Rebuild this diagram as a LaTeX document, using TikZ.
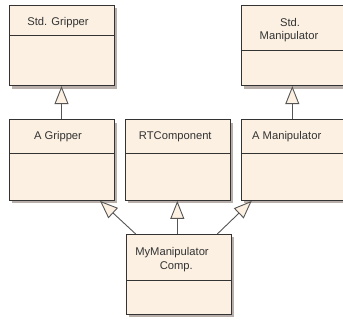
\documentclass[tikz,border=0pt]{standalone}
\usepackage{fontspec}
\setmainfont{Liberation Sans}
\usetikzlibrary{arrows.meta,shadows}
\definecolor{boxfill}{HTML}{FBF0E2}
\definecolor{boxline}{HTML}{333333}
\definecolor{shadowcol}{HTML}{B8AEAA}
\definecolor{textcol}{HTML}{333333}
\definecolor{linkcol}{HTML}{555555}
\tikzset{
  classbox/.style={rectangle, draw=boxline, line width=0.9pt, fill=boxfill,
    minimum width=104.5pt, minimum height=80.5pt, inner sep=0pt, anchor=north west,
    drop shadow={shadow xshift=3pt, shadow yshift=-3pt, fill=shadowcol, opacity=1}},
  divider/.style={draw=boxline, line width=0.9pt},
  lbl/.style={text=textcol, inner sep=0pt, font=\fontsize{11.2}{14}\selectfont},
  inherit/.style={draw=linkcol, line width=0.9pt,
    -{Triangle[length=18pt, width=14pt, fill=boxfill, line width=0.9pt]}},
}
\begin{document}
\begin{tikzpicture}[x=1pt,y=-1pt]
  \clip (0,0) rectangle (343,320);
  \fill[white] (0,0) rectangle (343,320);

  % class boxes
  \node[classbox] (sg) at (9,4.7) {};
  \node[classbox] (sm) at (240.7,4.7) {};
  \node[classbox] (ag) at (9,119.5) {};
  \node[classbox] (rt) at (125,119.5) {};
  \node[classbox] (am) at (240.7,119.5) {};
  \node[classbox, minimum height=80pt] (mc) at (126,234) {};

  % compartment dividers
  \draw[divider] ([yshift=-30.3pt]sg.north west) -- ([yshift=-30.3pt]sg.north east);
  \draw[divider] ([yshift=-46pt]sm.north west) -- ([yshift=-46pt]sm.north east);
  \draw[divider] ([yshift=-33.5pt]ag.north west) -- ([yshift=-33.5pt]ag.north east);
  \draw[divider] ([yshift=-33.5pt]rt.north west) -- ([yshift=-33.5pt]rt.north east);
  \draw[divider] ([yshift=-33.5pt]am.north west) -- ([yshift=-33.5pt]am.north east);
  \draw[divider] ([yshift=-46pt]mc.north west) -- ([yshift=-46pt]mc.north east);

  % class names
  \node[lbl] (sgt) at (58,22.7) {Std. Gripper};
  \node[lbl] (smt1) at (290,22.7) {Std.};
  \node[lbl] (smt2) at (289,36.7) {Manipulator};
  \node[lbl] (agt) at (58,136.7) {A Gripper};
  \node[lbl] (rtt) at (175.3,136.7) {RTComponent};
  \node[lbl] (amt) at (286.7,136.7) {A Manipulator};
  \node[lbl] (mct1) at (172,252.3) {MyManipulator};
  \node[lbl] (mct2) at (176.3,266.7) {Comp.};

  % generalisation links
  \draw[inherit] ([xshift=52.5pt]ag.north west) -- ([xshift=52.5pt]sg.south west);
  \draw[inherit] ([xshift=51.6pt]am.north west) -- ([xshift=51.6pt]sm.south west);
  \draw[inherit] ([xshift=9.7pt]mc.north west) -- ([xshift=91pt]ag.south west);
  \draw[inherit] ([xshift=51.3pt]mc.north west) -- ([xshift=52.3pt]rt.south west);
  \draw[inherit] ([xshift=91.3pt]mc.north west) -- ([xshift=11pt]am.south west);
\end{tikzpicture}
\end{document}
